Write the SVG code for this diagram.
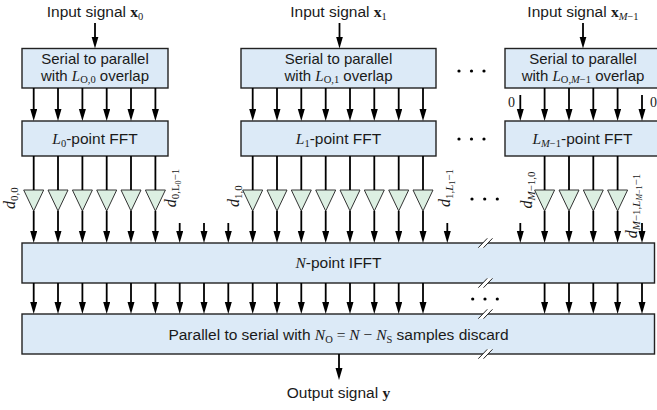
<svg xmlns="http://www.w3.org/2000/svg" xmlns:xlink="http://www.w3.org/1999/xlink" width="657" height="410" viewBox="0 0 657 410">
  <style>
    .box { fill: #dceaf7; stroke: #222; stroke-width: 1.4; }
    .amp { fill: #dcefe2; stroke: #333; stroke-width: 1; }
    .ln { stroke: #000; stroke-width: 1.8; fill: none; }
    .ar { stroke: #000; stroke-width: 1.8; fill: none; marker-end: url(#ah); }
    .t { font-family: "Liberation Sans", Arial, sans-serif; font-size: 15.5px; fill: #1a1a1a; }
    .t2 { font-size: 15px; }
    .mi { font-family: "Liberation Serif", "Times New Roman", serif; font-style: italic; }
    .mr { font-family: "Liberation Serif", "Times New Roman", serif; font-style: normal; }
    .mb { font-family: "Liberation Serif", "Times New Roman", serif; font-weight: bold; }
    .lbl { font-family: "Liberation Serif", "Times New Roman", serif; font-style: italic; font-size: 16px; fill: #1a1a1a; }
    .zero { font-family: "Liberation Serif", "Times New Roman", serif; font-size: 14px; fill: #1a1a1a; }
    .sub { font-size: 11px; font-style: normal; }
    .ss { font-size: 8px; }
    .it { font-style: italic; }
    .dot { fill: #000; }
    .brk { stroke: #222; stroke-width: 1; fill: none; }
  </style>
  <defs>
    <marker id="ah" markerUnits="userSpaceOnUse" markerWidth="12" markerHeight="8" refX="4" refY="3.5" orient="auto">
      <path d="M0,0 L12,3.5 L0,7 Z" fill="#000"/>
    </marker>
    <path id="tri" class="amp" d="M-10,0 H10 L0,21 Z"/>
  </defs>

  <rect width="657" height="410" fill="#fff"/>

  <!-- branch 0 -->
  <g id="sp0">
    <rect class="box" x="22" y="48.5" width="146" height="39.5"/>
    <text class="t t2" x="95" y="63.5" text-anchor="middle">Serial to parallel</text>
    <text class="t t2" x="95" y="80.5" text-anchor="middle">with <tspan class="mi">L</tspan><tspan class="mr" font-size="10.5" dy="2.5">O,0</tspan><tspan dy="-2.5"> overlap</tspan></text>
  </g>
  <g id="fft0">
    <rect class="box" x="22" y="121" width="146" height="35"/>
    <text class="t" x="95" y="144" text-anchor="middle"><tspan class="mi">L</tspan><tspan class="mr" font-size="10.5" dy="3">0</tspan><tspan dy="-3">-point FFT</tspan></text>
  </g>

  <!-- branch 1 -->
  <g id="sp1">
    <rect class="box" x="241" y="48.5" width="195" height="39.5"/>
    <text class="t t2" x="338.5" y="63.5" text-anchor="middle">Serial to parallel</text>
    <text class="t t2" x="338.5" y="80.5" text-anchor="middle">with <tspan class="mi">L</tspan><tspan class="mr" font-size="10.5" dy="2.5">O,1</tspan><tspan dy="-2.5"> overlap</tspan></text>
  </g>
  <g id="fft1">
    <rect class="box" x="241" y="121" width="195" height="35"/>
    <text class="t" x="338.5" y="144" text-anchor="middle"><tspan class="mi">L</tspan><tspan class="mr" font-size="10.5" dy="3">1</tspan><tspan dy="-3">-point FFT</tspan></text>
  </g>

  <!-- branch M-1 -->
  <g id="spM">
    <rect class="box" x="505" y="48.5" width="157" height="39.5"/>
    <text class="t t2" x="583" y="63.5" text-anchor="middle">Serial to parallel</text>
    <text class="t t2" x="583" y="80.5" text-anchor="middle">with <tspan class="mi">L</tspan><tspan class="mr" font-size="10.5" dy="2.5">O,<tspan class="mi">M</tspan>−1</tspan><tspan dy="-2.5"> overlap</tspan></text>
  </g>
  <g id="fftM">
    <rect class="box" x="505" y="121" width="157" height="35"/>
    <text class="t" x="582.5" y="144" text-anchor="middle"><tspan class="mi">L</tspan><tspan class="mr" font-size="10.5" dy="3"><tspan class="mi">M</tspan>−1</tspan><tspan dy="-3">-point FFT</tspan></text>
  </g>

  <!-- combining stages -->
  <g id="ifft">
    <rect class="box" x="22" y="243" width="632.5" height="40"/>
    <text class="t" x="338.5" y="268" text-anchor="middle"><tspan class="mi">N</tspan>-point IFFT</text>
  </g>
  <g id="ps">
    <rect class="box" x="22" y="314" width="632.5" height="40"/>
    <text class="t" x="338.5" y="339.5" text-anchor="middle">Parallel to serial with <tspan class="mi">N</tspan><tspan class="mr" font-size="10.5" dy="3">O</tspan><tspan class="mr" dy="-3"> = </tspan><tspan class="mi">N</tspan><tspan class="mr"> − </tspan><tspan class="mi">N</tspan><tspan class="mr" font-size="10.5" dy="3">S</tspan><tspan dy="-3"> samples discard</tspan></text>
  </g>

  <!-- input / output labels -->
  <g id="labels-io">
    <text class="t" x="95" y="16.5" text-anchor="middle">Input signal <tspan class="mb">x</tspan><tspan class="mr" font-size="10.5" dy="3">0</tspan></text>
    <text class="t" x="338.5" y="16.5" text-anchor="middle">Input signal <tspan class="mb">x</tspan><tspan class="mr" font-size="10.5" dy="3">1</tspan></text>
    <text class="t" x="583" y="16.5" text-anchor="middle">Input signal <tspan class="mb">x</tspan><tspan class="mr" font-size="10.5" dy="3"><tspan class="mi">M</tspan>−1</tspan></text>
    <text class="t" x="338.5" y="398" text-anchor="middle">Output signal <tspan class="mb">y</tspan></text>
  </g>

  <!-- amplitude weights -->
  <g id="weights">
    <use xlink:href="#tri" x="33.7" y="190"/>
    <use xlink:href="#tri" x="58.0" y="190"/>
    <use xlink:href="#tri" x="82.4" y="190"/>
    <use xlink:href="#tri" x="106.7" y="190"/>
    <use xlink:href="#tri" x="131.0" y="190"/>
    <use xlink:href="#tri" x="155.4" y="190"/>
    <use xlink:href="#tri" x="252.7" y="190"/>
    <use xlink:href="#tri" x="277.0" y="190"/>
    <use xlink:href="#tri" x="301.3" y="190"/>
    <use xlink:href="#tri" x="325.7" y="190"/>
    <use xlink:href="#tri" x="350.0" y="190"/>
    <use xlink:href="#tri" x="374.3" y="190"/>
    <use xlink:href="#tri" x="398.7" y="190"/>
    <use xlink:href="#tri" x="423.0" y="190"/>
    <use xlink:href="#tri" x="544.6" y="190"/>
    <use xlink:href="#tri" x="569.0" y="190"/>
    <use xlink:href="#tri" x="593.3" y="190"/>
    <use xlink:href="#tri" x="617.6" y="190"/>
  </g>

  <g id="connectors">
    <!-- inputs -->
    <line class="ar" x1="95" y1="23" x2="95" y2="40.5"/>
    <line class="ar" x1="339.5" y1="23" x2="339.5" y2="40.5"/>
    <line class="ar" x1="583" y1="23" x2="583" y2="40.5"/>

    <!-- serial-to-parallel outputs -->
    <line class="ar" x1="33.7" y1="88" x2="33.7" y2="113"/>
    <line class="ar" x1="58.0" y1="88" x2="58.0" y2="113"/>
    <line class="ar" x1="82.4" y1="88" x2="82.4" y2="113"/>
    <line class="ar" x1="106.7" y1="88" x2="106.7" y2="113"/>
    <line class="ar" x1="131.0" y1="88" x2="131.0" y2="113"/>
    <line class="ar" x1="155.4" y1="88" x2="155.4" y2="113"/>
    <line class="ar" x1="252.7" y1="88" x2="252.7" y2="113"/>
    <line class="ar" x1="277.0" y1="88" x2="277.0" y2="113"/>
    <line class="ar" x1="301.3" y1="88" x2="301.3" y2="113"/>
    <line class="ar" x1="325.7" y1="88" x2="325.7" y2="113"/>
    <line class="ar" x1="350.0" y1="88" x2="350.0" y2="113"/>
    <line class="ar" x1="374.3" y1="88" x2="374.3" y2="113"/>
    <line class="ar" x1="398.7" y1="88" x2="398.7" y2="113"/>
    <line class="ar" x1="423.0" y1="88" x2="423.0" y2="113"/>
    <line class="ar" x1="520.3" y1="95" x2="520.3" y2="113"/>
    <line class="ar" x1="544.6" y1="88" x2="544.6" y2="113"/>
    <line class="ar" x1="569.0" y1="88" x2="569.0" y2="113"/>
    <line class="ar" x1="593.3" y1="88" x2="593.3" y2="113"/>
    <line class="ar" x1="617.6" y1="88" x2="617.6" y2="113"/>
    <line class="ar" x1="642.0" y1="95" x2="642.0" y2="113"/>

    <!-- FFT outputs into weights -->
    <line class="ln" x1="33.7" y1="156" x2="33.7" y2="190"/>
    <line class="ln" x1="58.0" y1="156" x2="58.0" y2="190"/>
    <line class="ln" x1="82.4" y1="156" x2="82.4" y2="190"/>
    <line class="ln" x1="106.7" y1="156" x2="106.7" y2="190"/>
    <line class="ln" x1="131.0" y1="156" x2="131.0" y2="190"/>
    <line class="ln" x1="155.4" y1="156" x2="155.4" y2="190"/>
    <line class="ln" x1="252.7" y1="156" x2="252.7" y2="190"/>
    <line class="ln" x1="277.0" y1="156" x2="277.0" y2="190"/>
    <line class="ln" x1="301.3" y1="156" x2="301.3" y2="190"/>
    <line class="ln" x1="325.7" y1="156" x2="325.7" y2="190"/>
    <line class="ln" x1="350.0" y1="156" x2="350.0" y2="190"/>
    <line class="ln" x1="374.3" y1="156" x2="374.3" y2="190"/>
    <line class="ln" x1="398.7" y1="156" x2="398.7" y2="190"/>
    <line class="ln" x1="423.0" y1="156" x2="423.0" y2="190"/>
    <line class="ln" x1="544.6" y1="156" x2="544.6" y2="190"/>
    <line class="ln" x1="569.0" y1="156" x2="569.0" y2="190"/>
    <line class="ln" x1="593.3" y1="156" x2="593.3" y2="190"/>
    <line class="ln" x1="617.6" y1="156" x2="617.6" y2="190"/>

    <!-- weights into IFFT -->
    <line class="ar" x1="33.7" y1="211" x2="33.7" y2="235"/>
    <line class="ar" x1="58.0" y1="211" x2="58.0" y2="235"/>
    <line class="ar" x1="82.4" y1="211" x2="82.4" y2="235"/>
    <line class="ar" x1="106.7" y1="211" x2="106.7" y2="235"/>
    <line class="ar" x1="131.0" y1="211" x2="131.0" y2="235"/>
    <line class="ar" x1="155.4" y1="211" x2="155.4" y2="235"/>
    <line class="ar" x1="252.7" y1="211" x2="252.7" y2="235"/>
    <line class="ar" x1="277.0" y1="211" x2="277.0" y2="235"/>
    <line class="ar" x1="301.3" y1="211" x2="301.3" y2="235"/>
    <line class="ar" x1="325.7" y1="211" x2="325.7" y2="235"/>
    <line class="ar" x1="350.0" y1="211" x2="350.0" y2="235"/>
    <line class="ar" x1="374.3" y1="211" x2="374.3" y2="235"/>
    <line class="ar" x1="398.7" y1="211" x2="398.7" y2="235"/>
    <line class="ar" x1="423.0" y1="211" x2="423.0" y2="235"/>
    <line class="ar" x1="544.6" y1="211" x2="544.6" y2="235"/>
    <line class="ar" x1="569.0" y1="211" x2="569.0" y2="235"/>
    <line class="ar" x1="593.3" y1="211" x2="593.3" y2="235"/>
    <line class="ar" x1="617.6" y1="211" x2="617.6" y2="235"/>

    <!-- zero-padded IFFT inputs -->
    <line class="ar" x1="179.7" y1="223" x2="179.7" y2="235"/>
    <line class="ar" x1="204.0" y1="223" x2="204.0" y2="235"/>
    <line class="ar" x1="228.3" y1="223" x2="228.3" y2="235"/>
    <line class="ar" x1="447.3" y1="223" x2="447.3" y2="235"/>
    <line class="ar" x1="520.3" y1="223" x2="520.3" y2="235"/>
    <line class="ar" x1="642.0" y1="223" x2="642.0" y2="235"/>

    <!-- IFFT outputs -->
    <line class="ar" x1="33.7" y1="283" x2="33.7" y2="306"/>
    <line class="ar" x1="58.0" y1="283" x2="58.0" y2="306"/>
    <line class="ar" x1="82.4" y1="283" x2="82.4" y2="306"/>
    <line class="ar" x1="106.7" y1="283" x2="106.7" y2="306"/>
    <line class="ar" x1="131.0" y1="283" x2="131.0" y2="306"/>
    <line class="ar" x1="155.4" y1="283" x2="155.4" y2="306"/>
    <line class="ar" x1="179.7" y1="283" x2="179.7" y2="306"/>
    <line class="ar" x1="204.0" y1="283" x2="204.0" y2="306"/>
    <line class="ar" x1="228.3" y1="283" x2="228.3" y2="306"/>
    <line class="ar" x1="252.7" y1="283" x2="252.7" y2="306"/>
    <line class="ar" x1="277.0" y1="283" x2="277.0" y2="306"/>
    <line class="ar" x1="301.3" y1="283" x2="301.3" y2="306"/>
    <line class="ar" x1="325.7" y1="283" x2="325.7" y2="306"/>
    <line class="ar" x1="350.0" y1="283" x2="350.0" y2="306"/>
    <line class="ar" x1="374.3" y1="283" x2="374.3" y2="306"/>
    <line class="ar" x1="398.7" y1="283" x2="398.7" y2="306"/>
    <line class="ar" x1="423.0" y1="283" x2="423.0" y2="306"/>
    <line class="ar" x1="544.6" y1="283" x2="544.6" y2="306"/>
    <line class="ar" x1="569.0" y1="283" x2="569.0" y2="306"/>
    <line class="ar" x1="593.3" y1="283" x2="593.3" y2="306"/>
    <line class="ar" x1="617.6" y1="283" x2="617.6" y2="306"/>
    <line class="ar" x1="642.0" y1="283" x2="642.0" y2="306"/>

    <!-- output -->
    <line class="ar" x1="339" y1="354" x2="339" y2="372"/>
  </g>

  <!-- break marks on the wide blocks -->
  <g id="breaks">
    <polygon points="478.3,247.7 483.5,247.7 492.5,238.3 487.3,238.3" fill="#fff"/>
    <line class="brk" x1="478.3" y1="247.7" x2="487.3" y2="238.3"/>
    <line class="brk" x1="483.5" y1="247.7" x2="492.5" y2="238.3"/>
    <polygon points="478.3,287.7 483.5,287.7 492.5,278.3 487.3,278.3" fill="#fff"/>
    <line class="brk" x1="478.3" y1="287.7" x2="487.3" y2="278.3"/>
    <line class="brk" x1="483.5" y1="287.7" x2="492.5" y2="278.3"/>
    <polygon points="478.3,318.7 483.5,318.7 492.5,309.3 487.3,309.3" fill="#fff"/>
    <line class="brk" x1="478.3" y1="318.7" x2="487.3" y2="309.3"/>
    <line class="brk" x1="483.5" y1="318.7" x2="492.5" y2="309.3"/>
    <polygon points="478.3,358.7 483.5,358.7 492.5,349.3 487.3,349.3" fill="#fff"/>
    <line class="brk" x1="478.3" y1="358.7" x2="487.3" y2="349.3"/>
    <line class="brk" x1="483.5" y1="358.7" x2="492.5" y2="349.3"/>
  </g>

  <!-- ellipses -->
  <g id="ellipses">
    <circle class="dot" cx="459" cy="71" r="1.6"/>
    <circle class="dot" cx="471.5" cy="71" r="1.6"/>
    <circle class="dot" cx="484" cy="71" r="1.6"/>
    <circle class="dot" cx="459" cy="139" r="1.6"/>
    <circle class="dot" cx="471.5" cy="139" r="1.6"/>
    <circle class="dot" cx="484" cy="139" r="1.6"/>
    <circle class="dot" cx="472" cy="199" r="1.6"/>
    <circle class="dot" cx="484.7" cy="199" r="1.6"/>
    <circle class="dot" cx="497.3" cy="199" r="1.6"/>
    <circle class="dot" cx="472.7" cy="299" r="1.6"/>
    <circle class="dot" cx="485" cy="299" r="1.6"/>
    <circle class="dot" cx="497.3" cy="299" r="1.6"/>
  </g>

  <!-- zero labels and subcarrier labels -->
  <g id="labels-d">
    <text class="zero" x="508" y="107">0</text>
    <text class="zero" x="650" y="107">0</text>
    <text class="lbl" transform="translate(15,198) rotate(-90)" text-anchor="middle">d<tspan class="sub" dy="3">0,0</tspan></text>
    <text class="lbl" transform="translate(176,188) rotate(-90)" text-anchor="middle">d<tspan class="sub" dy="3">0,L</tspan><tspan class="sub ss" dy="2">0</tspan><tspan class="sub" dy="-2">−1</tspan></text>
    <text class="lbl" transform="translate(239,196) rotate(-90)" text-anchor="middle">d<tspan class="sub" dy="3">1,0</tspan></text>
    <text class="lbl" transform="translate(450,188) rotate(-90)" text-anchor="middle">d<tspan class="sub" dy="3">1,<tspan class="it">L</tspan></tspan><tspan class="sub ss" dy="2">1</tspan><tspan class="sub" dy="-2">−1</tspan></text>
    <text class="lbl" transform="translate(532,190) rotate(-90)" text-anchor="middle">d<tspan class="sub" dy="3"><tspan class="it">M</tspan>−1,0</tspan></text>
    <text class="lbl" transform="translate(637,206) rotate(-90)" text-anchor="middle">d<tspan class="sub" dy="3"><tspan class="it">M</tspan>−1,<tspan class="it">L</tspan></tspan><tspan class="sub ss" dy="2"><tspan class="it">M</tspan>−1</tspan><tspan class="sub" dy="-2">−1</tspan></text>
  </g>
</svg>
